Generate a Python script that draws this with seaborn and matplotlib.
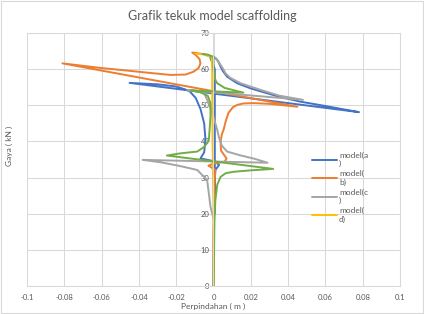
import numpy as np
import pandas as pd
import matplotlib
matplotlib.use("Agg")
import matplotlib.pyplot as plt
import seaborn as sns
from matplotlib.lines import Line2D
from matplotlib.patches import Rectangle

# --- data (x = perpindahan [m], y = gaya [kN]) ---
model_a_x = [0, 0, 0.0003, 0.0005, 0.001, 0.003, 0.0005, -0.007, -0.005, -0.0043, -0.005, -0.007,
             -0.0095, -0.013, -0.02, -0.03, -0.045, 0.078, 0.06, 0.0466, 0.035, 0.023, 0.0198,
             0.0127, 0.0073, 0.005, 0.0038, 0.0025, 0.001, -0.002, 0.0007, 0.0007, 0.0007]
model_a_y = [0, 10, 20, 28, 32.1, 33.5, 34.5, 35.3, 37, 40.4, 45, 49, 52, 54, 55.2, 55.8, 56.2,
             48.1, 49.8, 51, 52.4, 54.2, 54.7, 56.1, 57.9, 59.5, 60.7, 62.2, 63.1, 63.6, 60, 40,
             20]

model_b_x = [0, 0, 0.0005, 0.001, -0.0027, 0.0, 0.006, 0.007, 0.004, 0.0038, 0.0045, 0.0054,
             0.0065, 0.008, 0.0105, 0.0127, 0.016, 0.0215, 0.03, 0.045, -0.081, -0.06, -0.05,
             -0.035, -0.023, -0.015, -0.0107, -0.008, -0.007, -0.0075, -0.0095, -0.0114, -0.006,
             -0.002]
model_b_y = [0, 15, 28, 32.1, 33.3, 33.9, 34.4, 35.3, 37.5, 40.0, 42, 43.2, 45.5, 47.9, 49.5,
             50.1, 50.5, 50.6, 50.4, 49.6, 61.6, 60.3, 59.8, 59.0, 58.4, 58.5, 59.3, 60.3, 61.6,
             62.8, 63.9, 64.6, 64.2, 63.8]

model_c_x = [0, 0, 0.0003, -0.0016, -0.0034, -0.0087, -0.018, -0.028, -0.038, 0.029, 0.022,
             0.014, 0.0073, 0.0045, 0.003, 0.002, 0.0, -0.0025, -0.005, -0.009, -0.014, 0.048,
             0.035, 0.025, 0.0145, 0.009, 0.0065, 0.0055, 0.004, 0.003, 0.0015, 0.0, -0.004]
model_c_y = [0, 10, 18, 21.9, 29.3, 32.1, 33.2, 34.2, 34.9, 34.1, 35.2, 36.2, 37.2, 38.8, 41,
             43.2, 46.8, 50.5, 53.3, 54.0, 54.2, 51.5, 52.7, 54.3, 56.1, 57.6, 58.8, 59.8, 61,
             61.8, 62.9, 63.5, 63.8]

model_d_x = [0, 0, -0.0005, -0.0007, -0.0007, -0.001, -0.004, -0.0097]
model_d_y = [0, 20, 40, 53, 60, 63.3, 64, 64.3]

# fifth series (green) is drawn but its legend entry is cut off in the original
model_e_x = [0, 0.0003, 0.0005, 0.001, 0.002, 0.0038, 0.0065, 0.0107, 0.02, 0.032, -0.025,
             -0.0177, -0.0087, -0.005, -0.0035, -0.0025, -0.0016, -0.0016, -0.003, -0.007,
             -0.012, 0.016, 0.006, 0.002, 0.001, 0.0, 0.0, -0.003, -0.006]
model_e_y = [0, 10, 18, 23.8, 28, 30.2, 31.2, 31.6, 32.0, 32.4, 36.1, 36.7, 37.2, 38.5, 39.5,
             40.4, 46.8, 50.5, 52.6, 53.6, 54.1, 53.5, 54.8, 56.1, 57, 59.8, 63.3, 64.0, 64.2]

series = {
    "model(a\n)": (model_a_x, model_a_y),
    "model(\nb)": (model_b_x, model_b_y),
    "model(c\n)": (model_c_x, model_c_y),
    "model(\nd)": (model_d_x, model_d_y),
    "model(e)": (model_e_x, model_e_y),
}
colors = ["#4472C4", "#ED7D31", "#A5A5A5", "#FFC000", "#70AD47"]

frames = []
for name, (xs, ys) in series.items():
    frames.append(pd.DataFrame({"model": name, "x": xs, "y": ys}))
df = pd.concat(frames, ignore_index=True)

sns.set_style("white")
plt.rcParams["font.family"] = ["Lato", "DejaVu Sans"]

fig = plt.figure(figsize=(4.24, 3.14), dpi=100)
ax = fig.add_axes([27 / 424, 1 - 286 / 314, 373 / 424, 253 / 314])

sns.lineplot(data=df, x="x", y="y", hue="model", palette=colors, sort=False,
             estimator=None, linewidth=1.4, legend=False, ax=ax)

ax.set_xlim(-0.1, 0.1)
ax.set_ylim(0, 70)
ax.set_xticks(np.arange(-0.1, 0.1001, 0.02))
ax.set_xticklabels(["-0.1", "-0.08", "-0.06", "-0.04", "-0.02", "0",
                    "0.02", "0.04", "0.06", "0.08", "0.1"])
ax.set_yticks(range(0, 71, 10))
ax.grid(True, color="#D9D9D9", linewidth=0.75)
ax.set_axisbelow(True)
for s in ax.spines.values():
    s.set_color("#D9D9D9")
    s.set_linewidth(0.75)
ax.spines["left"].set_position(("data", 0))
ax.tick_params(axis="both", length=0, labelsize=5.5, labelcolor="#595959")
ax.tick_params(axis="x", pad=6)
ax.tick_params(axis="y", pad=3)
ax.set_xlabel("")
ax.set_ylabel("")

fig.text(213 / 424, 1 - 306 / 314, "Perpindahan ( m )", ha="center", va="center",
         fontsize=6, color="#595959")
fig.text(9 / 424, 1 - 146 / 314, "Gaya ( kN )", ha="center", va="center", rotation=90,
         fontsize=6, color="#595959")
fig.suptitle("Grafik tekuk model scaffolding", y=1 - 16 / 314, va="center",
             fontsize=9, color="#595959")

labels = list(series.keys())[:4]
handles = [Line2D([], [], color=c, linewidth=1.4) for c in colors[:4]]
ax.legend(handles, labels, loc="upper left", bbox_to_anchor=(0.745, 0.56), frameon=False,
          fontsize=6, labelcolor="#595959", handlelength=2.9, handletextpad=0.3,
          labelspacing=0.35)

fig.add_artist(Rectangle((0.002, 0.003), 0.995, 0.994, transform=fig.transFigure,
                         fill=False, edgecolor="#D9D9D9", linewidth=0.8))

fig.savefig("out.png", dpi=100)
